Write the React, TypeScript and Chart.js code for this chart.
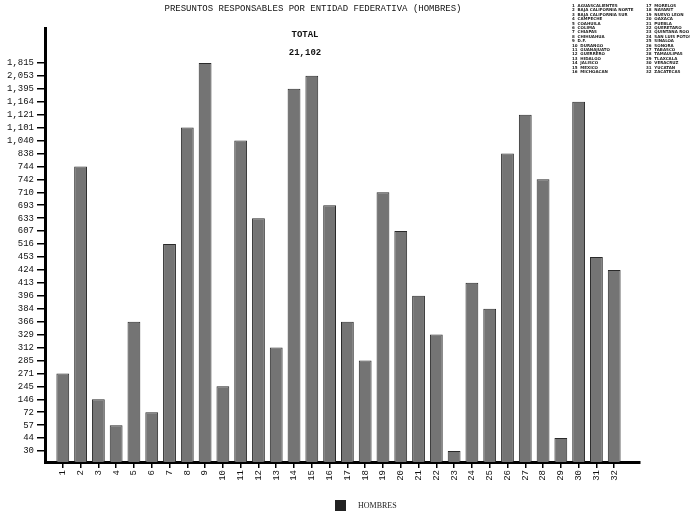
import { useEffect, useRef } from "react";
import { Chart, registerables } from "chart.js";
Chart.register(...registerables);

const states = ["1","2","3","4","5","6","7","8","9","10","11","12","13","14","15","16","17","18","19","20","21","22","23","24","25","26","27","28","29","30","31","32"];
const stateNames = [
  "AGUASCALIENTES","BAJA CALIFORNIA NORTE","BAJA CALIFORNIA SUR","CAMPECHE","COAHUILA","COLIMA","CHIAPAS","CHIHUAHUA",
  "D.F.","DURANGO","GUANAJUATO","GUERRERO","HIDALGO","JALISCO","MEXICO","MICHOACAN",
  "MORELOS","NAYARIT","NUEVO LEON","OAXACA","PUEBLA","QUERETARO","QUINTANA ROO","SAN LUIS POTOSI",
  "SINALOA","SONORA","TABASCO","TAMAULIPAS","TLAXCALA","VERACRUZ","YUCATAN","ZACATECAS"
];
// y-axis tick labels, top to bottom
const tickLabels = ["1,815","2,053","1,395","1,164","1,121","1,101","1,040","838","744","742","710","693","633","607","516","453","424","413","396","384","366","329","312","285","271","245","146","72","57","44","30"];
const hombres = [271, 744, 146, 57, 366, 72, 516, 1101, 1815, 245, 1040, 633, 312, 1395, 2053, 693, 366, 285, 710, 607, 396, 329, 30, 413, 384, 838, 1121, 742, 44, 1164, 453, 424];
const seriesLabel = "HOMBRES";
const titleText = "PRESUNTOS RESPONSABLES POR ENTIDAD FEDERATIVA (HOMBRES)";
const totalLabel = "TOTAL";
const totalValue = "21,102";

const fmt = (v: number) => v.toLocaleString("en-US");
const N = tickLabels.length - 1;

export default function App() {
  const ref = useRef<HTMLCanvasElement>(null);
  useEffect(() => {
    document.body.style.margin = "0";
    const textPlugin = {
      id: "texts",
      afterDraw(chart: any) {
        const ctx = chart.ctx;
        ctx.save();
        ctx.fillStyle = "#111";
        ctx.textBaseline = "middle";
        ctx.textAlign = "center";
        ctx.font = "9px 'Liberation Mono'";
        ctx.fillText(titleText, 313, 9);
        ctx.font = "bold 9px 'Liberation Mono'";
        ctx.fillText(totalLabel, 305, 35);
        ctx.fillText(totalValue, 305, 53);
        // legend
        ctx.fillStyle = "#222";
        ctx.fillRect(335, 500, 11, 11);
        ctx.font = "8px 'Liberation Serif'";
        ctx.textAlign = "left";
        ctx.fillText(seriesLabel, 358, 506);
        // state list
        ctx.font = "bold 4px 'DejaVu Sans'";
        stateNames.forEach((name, i) => {
          const col = i < 16 ? 0 : 1;
          const row = i % 16;
          const x = col === 0 ? 572 : 646;
          const y = 6 + row * 4.4;
          ctx.fillText(states[i] + "  " + name, x, y);
        });
        ctx.restore();
      },
    };
    const chart = new Chart(ref.current!, {
      type: "bar",
      data: {
        datasets: [
          {
            label: seriesLabel,
            data: hombres.map((v, i) => ({ x: i + 1, y: N - tickLabels.indexOf(fmt(v)) })),
            base: -0.85,
            backgroundColor: "#747474",
            borderColor: "#2a2a2a",
            borderWidth: 1,
            categoryPercentage: 1,
            barPercentage: 0.72,
          } as any,
        ],
      },
      options: {
        animation: false,
        responsive: false,
        layout: { padding: { top: 28, right: 50, left: 0, bottom: 0 } },
        plugins: { legend: { display: false }, tooltip: { enabled: false }, title: { display: false } },
        scales: {
          x: {
            type: "linear",
            min: 0.0,
            max: 33.45,
            offset: false,
            afterBuildTicks: (s: any) => { s.ticks = states.map((_, i) => ({ value: i + 1 })); },
            afterFit: (s: any) => { s.height = 60; },
            ticks: {
              autoSkip: false,
              maxRotation: 90,
              minRotation: 90,
              padding: 2,
              color: "#111",
              font: { family: "'Liberation Mono'", size: 9 },
              callback: (v: any) => states[Number(v) - 1],
            },
            grid: { drawOnChartArea: false, drawTicks: true, tickLength: 6, color: "#000", lineWidth: 1.5, offset: false },
            border: { color: "#000", width: 3 },
          },
          y: {
            type: "linear",
            min: -0.85,
            max: 32.7,
            afterBuildTicks: (s: any) => { s.ticks = tickLabels.map((_, i) => ({ value: i })); },
            afterFit: (s: any) => { s.width = 45; },
            ticks: {
              autoSkip: false,
              padding: 3,
              color: "#111",
              font: { family: "'Liberation Mono'", size: 9 },
              callback: (v: any) => tickLabels[N - Number(v)],
            },
            grid: { drawOnChartArea: false, drawTicks: true, tickLength: 8, color: "#000", lineWidth: 1.5 },
            border: { color: "#000", width: 3 },
          },
        },
      },
      plugins: [textPlugin],
    });
    return () => chart.destroy();
  }, []);
  return <canvas ref={ref} width={690} height={522} style={{ display: "block" }} />;
}
